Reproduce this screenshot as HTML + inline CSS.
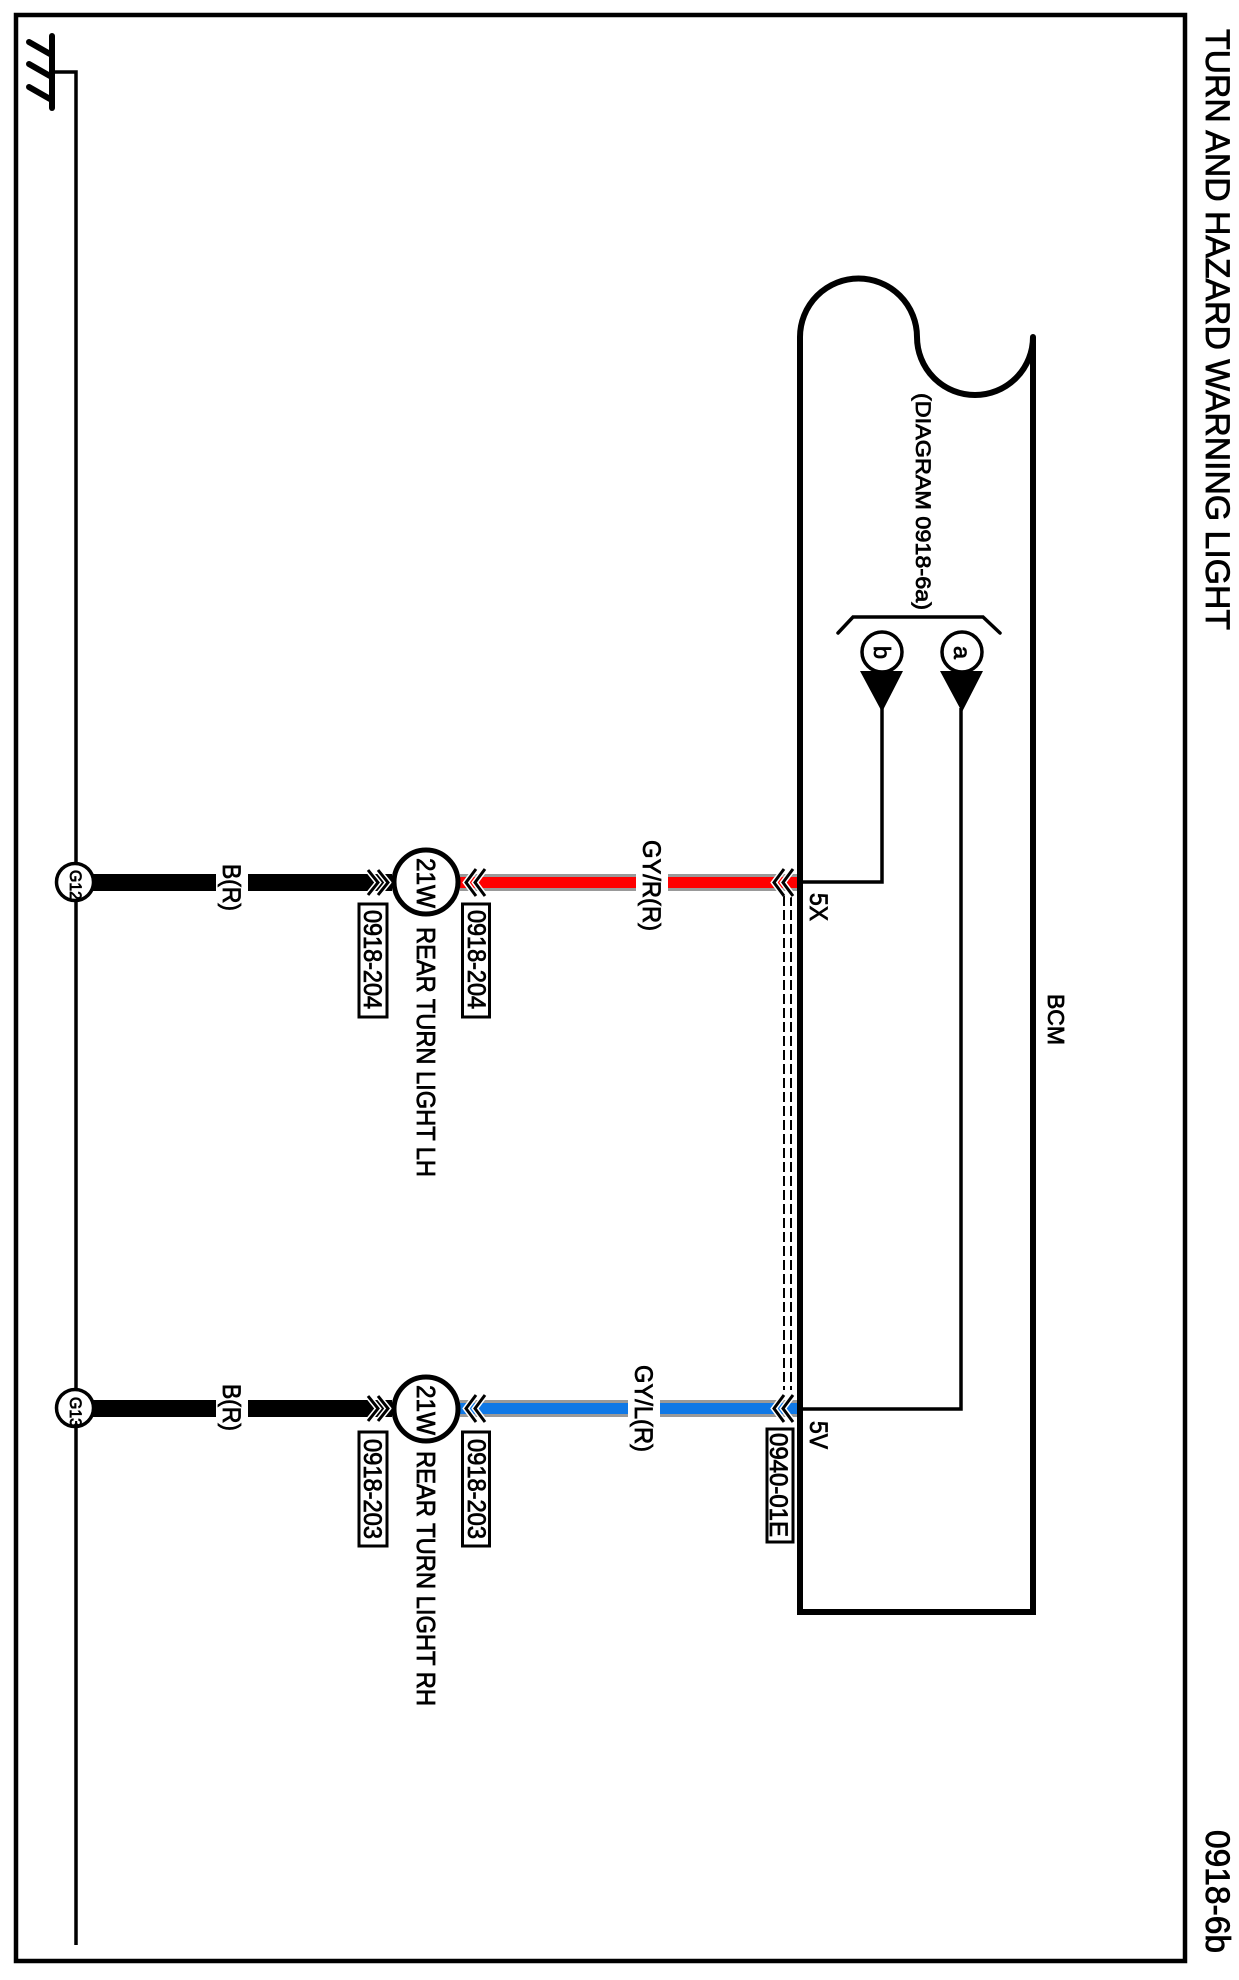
<!DOCTYPE html>
<html><head><meta charset="utf-8"><style>
html,body{margin:0;padding:0;background:#fff}
svg{display:block}
text{font-family:"Liberation Sans",sans-serif;fill:#000;stroke:#000;stroke-width:.8}
</style></head><body>
<svg width="1239" height="1980" viewBox="0 0 1239 1980" xmlns="http://www.w3.org/2000/svg">
<rect width="1239" height="1980" fill="#fff"/>
<rect x="16" y="15" width="1169" height="1946" fill="none" stroke="#000" stroke-width="4.500"/>
<!-- ground -->
<g stroke="#000" fill="none" stroke-linecap="round">
<path d="M52 36V108" stroke-width="6"/>
<path d="M29 42L50 54M29 64L50 76M29 87L50 99" stroke-width="6"/>
<path d="M52 72H76V1945" stroke-width="3.500" stroke-linecap="butt"/>
</g>
<!-- black wires -->
<rect x="90" y="874" width="126" height="17"/><rect x="248" y="874" width="144" height="17"/>
<rect x="90" y="1400" width="126" height="17"/><rect x="248" y="1400" width="144" height="17"/>
<!-- coloured wires -->
<g fill="#999"><rect x="460" y="874" width="176" height="17"/><rect x="668" y="874" width="132" height="17"/>
<rect x="460" y="1400" width="168" height="17"/><rect x="660" y="1400" width="140" height="17"/></g>
<g fill="#f00"><rect x="460" y="877" width="176" height="11"/><rect x="668" y="877" width="132" height="11"/></g>
<g fill="#0f78e6"><rect x="460" y="1403" width="168" height="11"/><rect x="660" y="1403" width="140" height="11"/></g>
<!-- dashed -->
<path d="M784 896V1390M791 896V1390" stroke="#000" stroke-width="2" stroke-dasharray="10 4" fill="none"/>
<!-- chevrons -->
<defs>
<g id="cl" fill="none" stroke-linejoin="miter">
<path d="M784 869L774 882.5L784 896M793 869L783 882.5L793 896" stroke="#fff" stroke-width="6"/>
<path d="M784 869L774 882.5L784 896M793 869L783 882.5L793 896" stroke="#000" stroke-width="3"/>
</g>
<g id="cr" fill="none">
<path d="M368 870L378 882.5L368 895M378 870L388 882.5L378 895" stroke="#fff" stroke-width="6"/>
<path d="M368 870L378 882.5L368 895M378 870L388 882.5L378 895" stroke="#000" stroke-width="3"/>
</g>
</defs>
<use href="#cl"/><use href="#cl" x="-308"/>
<use href="#cl" y="526"/><use href="#cl" x="-308" y="526"/>
<use href="#cr"/><use href="#cr" y="526"/>
<!-- BCM -->
<path d="M1033 337V1612H800V337A58.5 58.5 0 0 1 917 337A58 58 0 0 0 1033 337" fill="none" stroke="#000" stroke-width="6" stroke-linecap="round"/>
<path d="M800 882H882V708M800 1409H961V708" fill="none" stroke="#000" stroke-width="3.500"/>
<path d="M838 633L853 617H983L1000 633" fill="none" stroke="#000" stroke-width="3.500" stroke-linecap="round"/>
<circle cx="882" cy="652" r="20" fill="#fff" stroke="#000" stroke-width="3.500"/>
<circle cx="962" cy="652" r="20" fill="#fff" stroke="#000" stroke-width="3.500"/>
<path d="M860 671H903L882 712ZM940 671H983L962 712Z" fill="#000"/>
<!-- grounds & lamps -->
<g fill="#fff" stroke="#000">
<circle cx="75" cy="882" r="18.5" stroke-width="3.5"/><circle cx="75" cy="1408" r="18.5" stroke-width="3.5"/>
<circle cx="426" cy="882" r="32" stroke-width="5"/><circle cx="426" cy="1409" r="32" stroke-width="5"/>
<rect x="359" y="904" width="28" height="113" stroke-width="3"/>
<rect x="462.500" y="904" width="27" height="113" stroke-width="3"/>
<rect x="359" y="1432" width="28" height="114" stroke-width="3"/>
<rect x="462.500" y="1432" width="27" height="114" stroke-width="3"/>
<rect x="767" y="1429" width="26" height="113" stroke-width="3"/>
</g>
<!-- labels -->
<g>
<text transform="translate(1206,29) rotate(90)" font-size="34" textLength="601" lengthAdjust="spacingAndGlyphs">TURN AND HAZARD WARNING LIGHT</text>
<text transform="translate(1206,1830) rotate(90)" font-size="34" textLength="123" lengthAdjust="spacingAndGlyphs">0918-6b</text>
<text transform="translate(1048,994) rotate(90)" font-size="23" textLength="51" lengthAdjust="spacingAndGlyphs">BCM</text>
<text transform="translate(916,393) rotate(90)" font-size="21" textLength="217" lengthAdjust="spacingAndGlyphs">(DIAGRAM 0918-6a)</text>
<text transform="translate(874,646) rotate(90)" font-size="23" textLength="13" lengthAdjust="spacingAndGlyphs">b</text>
<text transform="translate(954,646) rotate(90)" font-size="23" textLength="13" lengthAdjust="spacingAndGlyphs">a</text>
<text transform="translate(810,893) rotate(90)" font-size="25" textLength="28" lengthAdjust="spacingAndGlyphs">5X</text>
<text transform="translate(810,1421) rotate(90)" font-size="25" textLength="28" lengthAdjust="spacingAndGlyphs">5V</text>
<text transform="translate(643,840) rotate(90)" font-size="25" textLength="91" lengthAdjust="spacingAndGlyphs">GY/R(R)</text>
<text transform="translate(635,1365) rotate(90)" font-size="25" textLength="87" lengthAdjust="spacingAndGlyphs">GY/L(R)</text>
<text transform="translate(223,864) rotate(90)" font-size="25" textLength="47" lengthAdjust="spacingAndGlyphs">B(R)</text>
<text transform="translate(223,1384) rotate(90)" font-size="25" textLength="47" lengthAdjust="spacingAndGlyphs">B(R)</text>
<text transform="translate(70,870) rotate(90)" font-size="17" textLength="30" lengthAdjust="spacingAndGlyphs">G12</text>
<text transform="translate(70,1397) rotate(90)" font-size="17" textLength="30" lengthAdjust="spacingAndGlyphs">G13</text>
<text transform="translate(417,858) rotate(90)" font-size="26" textLength="50" lengthAdjust="spacingAndGlyphs">21W</text>
<text transform="translate(417,1385) rotate(90)" font-size="26" textLength="50" lengthAdjust="spacingAndGlyphs">21W</text>
<text transform="translate(417,927) rotate(90)" font-size="26" textLength="250" lengthAdjust="spacingAndGlyphs">REAR TURN LIGHT LH</text>
<text transform="translate(417,1451) rotate(90)" font-size="26" textLength="255" lengthAdjust="spacingAndGlyphs">REAR TURN LIGHT RH</text>
<text transform="translate(364,910) rotate(90)" font-size="25" textLength="99" lengthAdjust="spacingAndGlyphs">0918-204</text>
<text transform="translate(468,910) rotate(90)" font-size="25" textLength="99" lengthAdjust="spacingAndGlyphs">0918-204</text>
<text transform="translate(364,1439) rotate(90)" font-size="25" textLength="100" lengthAdjust="spacingAndGlyphs">0918-203</text>
<text transform="translate(468,1439) rotate(90)" font-size="25" textLength="100" lengthAdjust="spacingAndGlyphs">0918-203</text>
<text transform="translate(770,1433) rotate(90)" font-size="25" textLength="104" lengthAdjust="spacingAndGlyphs">0940-01E</text>
</g>
</svg>
</body></html>
